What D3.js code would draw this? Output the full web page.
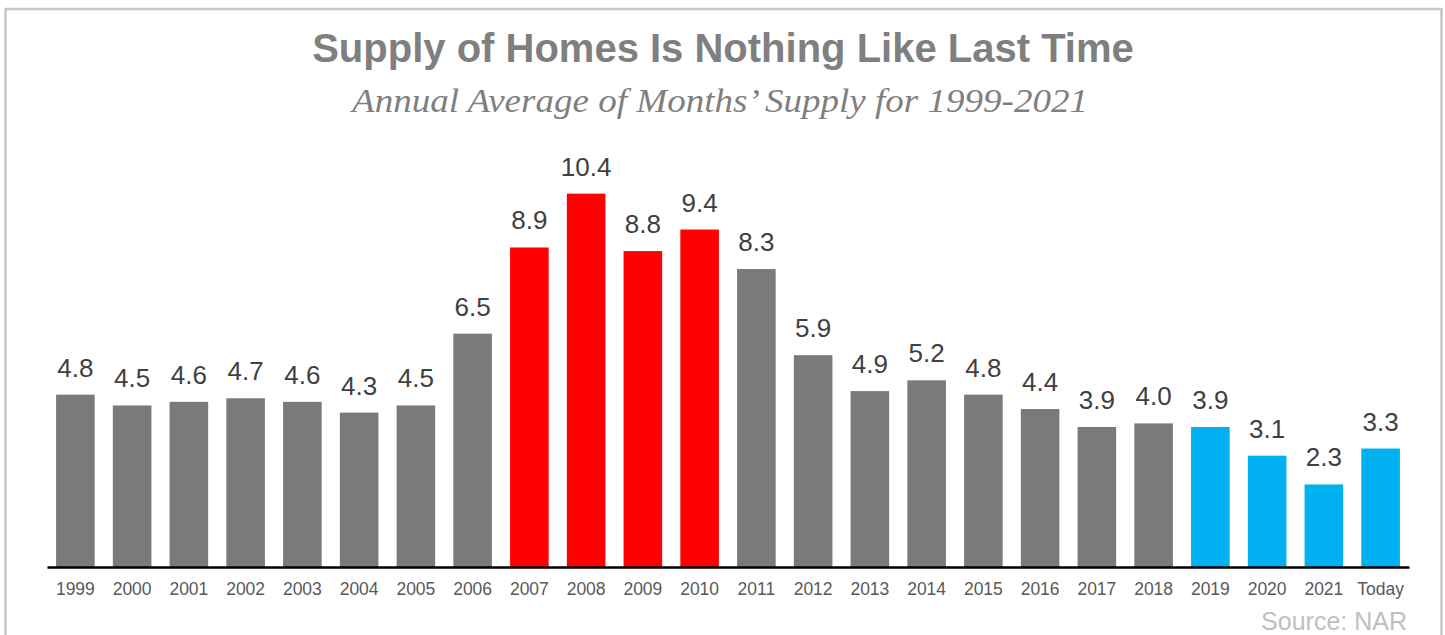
<!DOCTYPE html>
<html>
<head>
<meta charset="utf-8">
<script src="https://cdn.jsdelivr.net/npm/d3@7"></script>
<style>
  html, body { margin: 0; padding: 0; background: #fff; }
  svg { display: block; }
</style>
</head>
<body>
<div id="chart"></div>
<script>
// data
const years = ["1999", "2000", "2001", "2002", "2003", "2004", "2005", "2006", "2007", "2008", "2009", "2010",
    "2011", "2012", "2013", "2014", "2015", "2016", "2017", "2018", "2019", "2020", "2021", "Today"];
const monthsSupply = [4.8, 4.5, 4.6, 4.7, 4.6, 4.3, 4.5, 6.5, 8.9, 10.4, 8.8, 9.4,
    8.3, 5.9, 4.9, 5.2, 4.8, 4.4, 3.9, 4.0, 3.9, 3.1, 2.3, 3.3];
const crashYears = ["2007", "2008", "2009", "2010"];
const recentYears = ["2019", "2020", "2021", "Today"];

const width = 1445, height = 635;

let svg = d3.select("#chart").append("svg")
    .attr("width", width)
    .attr("height", height);

// outer frame
svg.append("rect")
    .attr("x", 5.5)
    .attr("y", 9)
    .attr("width", 1436)
    .attr("height", 640)
    .attr("fill", "none")
    .attr("stroke", "#c6c6c6")
    .attr("stroke-width", 2.5);

// titles
svg.append("text")
    .attr("x", 723)
    .attr("y", 62)
    .attr("text-anchor", "middle")
    .attr("font-family", "Liberation Sans, Arial, sans-serif")
    .attr("font-weight", "bold")
    .attr("font-size", 40)
    .attr("fill", "#7f7f7f")
    .text("Supply of Homes Is Nothing Like Last Time");

svg.append("text")
    .attr("x", 720)
    .attr("y", 112)
    .attr("text-anchor", "middle")
    .attr("font-family", "Liberation Serif, DejaVu Serif, serif")
    .attr("font-style", "italic")
    .attr("font-size", 33)
    .attr("textLength", 736)
    .attr("lengthAdjust", "spacingAndGlyphs")
    .attr("fill", "#7f7f7f")
    .text("Annual Average of Months\u2019 Supply for 1999-2021");

// scales
let x = d3.scaleBand()
    .domain(years)
    .range([47, 1409])
    .paddingInner(0.32)
    .paddingOuter(0.16);

let y = d3.scaleLinear()
    .domain([0, 12])
    .range([567, 567 - 12 * 35.9]);

let color = d => crashYears.includes(d) ? "#ff0000"
    : recentYears.includes(d) ? "#00b0f0" : "#7a7a7a";

let rows = years.map((yr, i) => ({year: yr, value: monthsSupply[i]}));

// bars
svg.selectAll(".bar")
    .data(rows)
    .enter()
    .append("rect")
    .attr("class", "bar")
    .attr("x", d => x(d.year))
    .attr("y", d => y(d.value))
    .attr("width", x.bandwidth())
    .attr("height", d => y(0) - y(d.value))
    .attr("fill", d => color(d.year));

// value labels
svg.selectAll(".val")
    .data(rows)
    .enter()
    .append("text")
    .attr("class", "val")
    .attr("x", d => x(d.year) + x.bandwidth() / 2)
    .attr("y", d => y(d.value) - 18)
    .attr("text-anchor", "middle")
    .attr("font-family", "Liberation Sans, Arial, sans-serif")
    .attr("font-size", 26)
    .attr("fill", "#404040")
    .text(d => d.value.toFixed(1));

// x axis
let xAxis = d3.axisBottom(x).tickSize(0).tickPadding(16);
let gx = svg.append("g")
    .attr("transform", `translate(0, ${y(0)})`)
    .call(xAxis);
gx.select(".domain")
    .attr("stroke", "#000")
    .attr("stroke-width", 2.5);
gx.selectAll(".tick text")
    .attr("font-family", "Liberation Sans, Arial, sans-serif")
    .attr("font-size", 17.5)
    .attr("fill", "#595959");

// source
svg.append("text")
    .attr("x", 1407)
    .attr("y", 630)
    .attr("text-anchor", "end")
    .attr("font-family", "Liberation Sans, Arial, sans-serif")
    .attr("font-size", 25)
    .attr("fill", "#bfbfbf")
    .text("Source: NAR");
</script>
</body>
</html>
